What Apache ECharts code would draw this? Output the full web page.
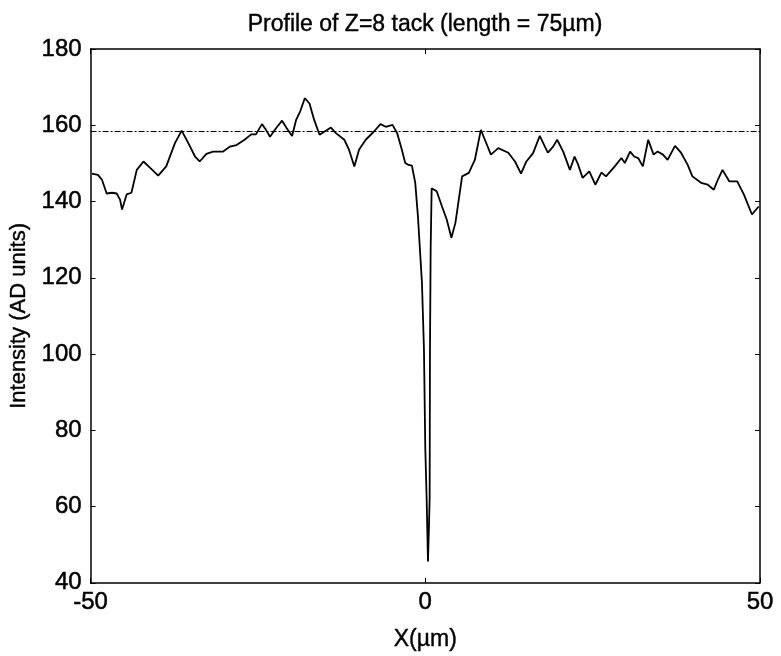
<!DOCTYPE html>
<html>
<head>
<meta charset="utf-8">
<script src="https://cdn.jsdelivr.net/npm/echarts@6/dist/echarts.min.js"></script>
<style>
  html, body { margin: 0; padding: 0; background: #fff; }
  #chart { width: 781px; height: 656px; }
</style>
</head>
<body>
<div id="chart"></div>
<script>
// Intensity profile along the tack, position in micrometres
const xPos = [
  -49.8, -48.9, -48.3, -47.6, -46.8, -46.1, -45.6, -45.3, -44.6, -43.9, -43.1, -42.1,
  -41.1, -39.9, -38.7, -37.4, -36.4, -35.4, -34.4, -33.7, -32.7, -31.7, -30.2, -29.2,
  -28.2, -27.0, -26.0, -25.3, -24.4, -23.8, -23.2, -22.3, -21.4, -20.7, -19.9, -19.3,
  -18.7, -18.0, -17.3, -16.6, -15.8, -15.1, -14.1, -13.4, -12.1, -11.4, -10.6, -9.9,
  -8.9, -7.7, -6.7, -5.9, -4.9, -4.2, -3.5, -3.0, -2.5, -2.0, -1.5, -1.1,
  -0.5, -0.2, 0.0, 0.2, 0.4, 0.55, 0.65, 0.7, 0.8, 0.95,
  1.1, 1.7, 2.5, 3.2, 3.9, 4.5, 5.0, 5.5, 6.5, 7.4, 8.3, 8.9,
  9.8, 10.9, 12.4, 13.4, 14.3, 15.1, 16.1, 17.1, 18.3, 19.1, 19.7, 20.6,
  21.6, 22.3, 22.8, 23.5, 24.5, 25.4, 26.3, 27.0, 28.3, 29.3, 29.8, 30.6,
  31.2, 31.8, 32.5, 33.3, 34.1, 34.7, 35.5, 36.2, 37.3, 38.2, 39.2, 39.9,
  41.2, 42.2, 43.1, 43.7, 44.4, 45.4, 46.6, 47.6, 48.8, 49.8
];
const intensity = [
  147.3, 147.0, 145.7, 142.1, 142.3, 142.1, 140.5, 137.9, 141.9, 142.3, 148.3, 150.5,
  148.8, 146.8, 149.2, 155.3, 158.6, 155.3, 151.8, 150.5, 152.5, 153.1, 153.1, 154.4,
  154.8, 156.2, 157.6, 157.6, 160.3, 158.8, 157.0, 159.2, 161.2, 159.2, 157.2, 161.4,
  163.6, 167.1, 165.7, 161.4, 157.5, 158.3, 159.4, 158.0, 156.2, 153.6, 149.2, 153.6,
  156.2, 158.3, 160.3, 159.6, 160.1, 157.9, 153.6, 150.1, 149.6, 149.4, 144.9, 136.1,
  118.7, 101.3, 75.2, 62.2, 45.6, 55.0, 62.2, 101.3, 127.5, 143.5,
  143.5, 142.7, 138.7, 135.3, 130.5, 134.4, 140.5, 146.6, 147.5, 150.9, 158.8, 156.2,
  152.3, 154.0, 152.8, 150.5, 147.3, 150.5, 152.7, 157.2, 152.8, 154.4, 156.2, 153.1,
  148.3, 151.8, 149.8, 146.2, 147.9, 144.4, 147.6, 146.6, 149.2, 151.4, 150.1, 153.1,
  151.8, 151.4, 149.2, 156.2, 152.3, 153.1, 152.3, 150.9, 154.6, 152.8, 149.6, 146.6,
  144.9, 144.4, 143.1, 145.7, 148.3, 145.3, 145.3, 141.8, 136.6, 138.7
];
const referenceLevel = 158.5;
const xTicks = [-50, 0, 50];
const yTicks = [40, 60, 80, 100, 120, 140, 160, 180];

const profile = xPos.map((x, i) => [x, intensity[i]]);

const FONT = '"Liberation Sans", Arial, sans-serif';
const chart = echarts.init(document.getElementById('chart'), null, { renderer: 'canvas' });

const tickStyle = { show: true, inside: true, length: 5, lineStyle: { color: '#000', width: 1 } };
const lineStyleAxis = { show: true, onZero: false, lineStyle: { color: '#000', width: 1.5 } };

chart.setOption({
  animation: false,
  backgroundColor: '#fff',
  title: {
    text: 'Profile of Z=8 tack (length = 75\u00b5m)',
    left: 420, top: 8, textAlign: 'center',
    textStyle: { fontFamily: FONT, fontSize: 23, fontWeight: 'normal', color: '#000', textBorderColor: '#000', textBorderWidth: 0.4 }
  },
  grid: { left: 87, right: 21, top: 49, bottom: 71, containLabel: false },
  xAxis: [{
    type: 'value', min: xTicks[0], max: xTicks[xTicks.length - 1], interval: 50,
    position: 'bottom',
    name: 'X(\u00b5m)', nameLocation: 'middle', nameGap: 45,
    nameTextStyle: { fontFamily: FONT, fontSize: 23, color: '#000', textBorderColor: '#000', textBorderWidth: 0.4 },
    axisLine: lineStyleAxis, axisTick: tickStyle,
    axisLabel: { fontFamily: FONT, fontSize: 24, color: '#000', margin: 8, textBorderColor: '#000', textBorderWidth: 0.5 },
    splitLine: { show: false }
  }, {
    type: 'value', min: xTicks[0], max: xTicks[xTicks.length - 1], interval: 50,
    position: 'top',
    axisLine: lineStyleAxis, axisTick: tickStyle,
    axisLabel: { show: false }, splitLine: { show: false }
  }],
  yAxis: [{
    type: 'value', min: yTicks[0], max: yTicks[yTicks.length - 1], interval: 20,
    position: 'left',
    name: 'Intensity (AD units)', nameLocation: 'middle', nameGap: 51,
    nameTextStyle: { fontFamily: FONT, fontSize: 22, color: '#000', textBorderColor: '#000', textBorderWidth: 0.4 },
    axisLine: lineStyleAxis, axisTick: tickStyle,
    axisLabel: { fontFamily: FONT, fontSize: 24, color: '#000', margin: 9, textBorderColor: '#000', textBorderWidth: 0.5 },
    splitLine: { show: false }
  }, {
    type: 'value', min: yTicks[0], max: yTicks[yTicks.length - 1], interval: 20,
    position: 'right',
    axisLine: lineStyleAxis, axisTick: tickStyle,
    axisLabel: { show: false }, splitLine: { show: false }
  }],
  series: [{
    type: 'line',
    data: profile,
    xAxisIndex: 0, yAxisIndex: 0,
    showSymbol: false, smooth: false,
    lineStyle: { color: '#000', width: 1.8 },
    markLine: {
      silent: true, symbol: 'none', label: { show: false },
      lineStyle: { color: '#000', width: 1, type: [6, 2, 2, 2] },
      data: [{ yAxis: referenceLevel }]
    }
  }]
});
</script>
</body>
</html>
